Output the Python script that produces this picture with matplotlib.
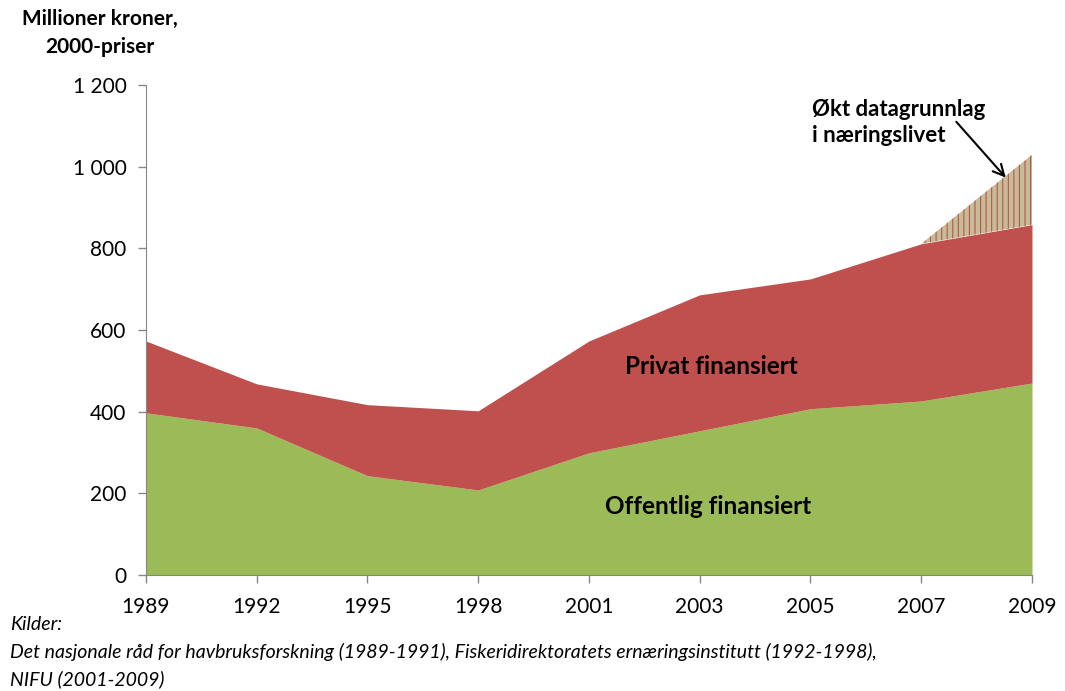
import numpy as np
import matplotlib.pyplot as plt

plt.rcParams['font.family'] = ['Lato', 'DejaVu Sans']
plt.rcParams['hatch.linewidth'] = 0.8

years = ['1989', '1992', '1995', '1998', '2001', '2003', '2005', '2007', '2009']
offentlig = [397, 360, 243, 208, 299, 353, 407, 426, 470]
privat = [176, 108, 174, 194, 274, 333, 318, 385, 388]
# extra data basis in business sector (only 2007-2009)
okt = [0, 0, 0, 0, 0, 0, 0, 0, 171]

x = np.arange(len(years))
off = np.array(offentlig)
tot = off + np.array(privat)
top = tot + np.array(okt)

fig = plt.figure(figsize=(10.65, 6.91), dpi=100)
ax = fig.add_axes([0.137, 0.168, 0.832, 0.709])

ax.fill_between(x, 0, off, color='#9BBB59', linewidth=0)
ax.fill_between(x, off, tot, color='#C0504D', linewidth=0)
ax.fill_between(x[7:], tot[7:], top[7:], facecolor='#C4BD97',
                edgecolor='#C0504D', hatch='|||', linewidth=0)

ax.set_xlim(0, len(years) - 1)
ax.set_ylim(0, 1200)
ax.set_xticks(x)
ax.set_xticklabels(years)
yt = [0, 200, 400, 600, 800, 1000, 1200]
ax.set_yticks(yt)
ax.set_yticklabels(['0', '200', '400', '600', '800', '1 000', '1 200'])
ax.tick_params(labelsize=15, colors='#000000', length=6, width=1,
               direction='out', pad=8)
ax.tick_params(axis='x', pad=10)
for s in ['top', 'right']:
    ax.spines[s].set_visible(False)
for s in ['left', 'bottom']:
    ax.spines[s].set_color('#868686')
ax.tick_params(color='#868686')

ax.text(5.11, 510, 'Privat finansiert', fontsize=17.5, fontweight='bold',
        ha='center', va='center')
ax.text(5.08, 167, 'Offentlig finansiert', fontsize=17.5, fontweight='bold',
        ha='center', va='center')
ax.annotate('', xy=(7.78, 968), xytext=(7.3, 1115),
            arrowprops=dict(arrowstyle='->', color='black', lw=1.5,
                            mutation_scale=20))
ax.text(6.01, 1165, 'Økt datagrunnlag\ni næringslivet', fontsize=16,
        fontweight='bold', ha='left', va='top', linespacing=1.25)

fig.text(100 / 1065, 1 - 33 / 691, 'Millioner kroner,\n2000-priser',
         fontsize=15, fontweight='bold', ha='center', va='center',
         linespacing=1.5)

fig.text(10 / 1065, 1 - 625 / 691, 'Kilder:', fontsize=14, style='italic',
         va='center')
fig.text(10 / 1065, 1 - 652 / 691,
         'Det nasjonale råd for havbruksforskning (1989-1991), '
         'Fiskeridirektoratets ernæringsinstitutt (1992-1998),',
         fontsize=14, style='italic', va='center')
fig.text(10 / 1065, 1 - 679 / 691, 'NIFU (2001-2009)', fontsize=14,
         style='italic', va='center')

fig.savefig('out.png', dpi=100)
